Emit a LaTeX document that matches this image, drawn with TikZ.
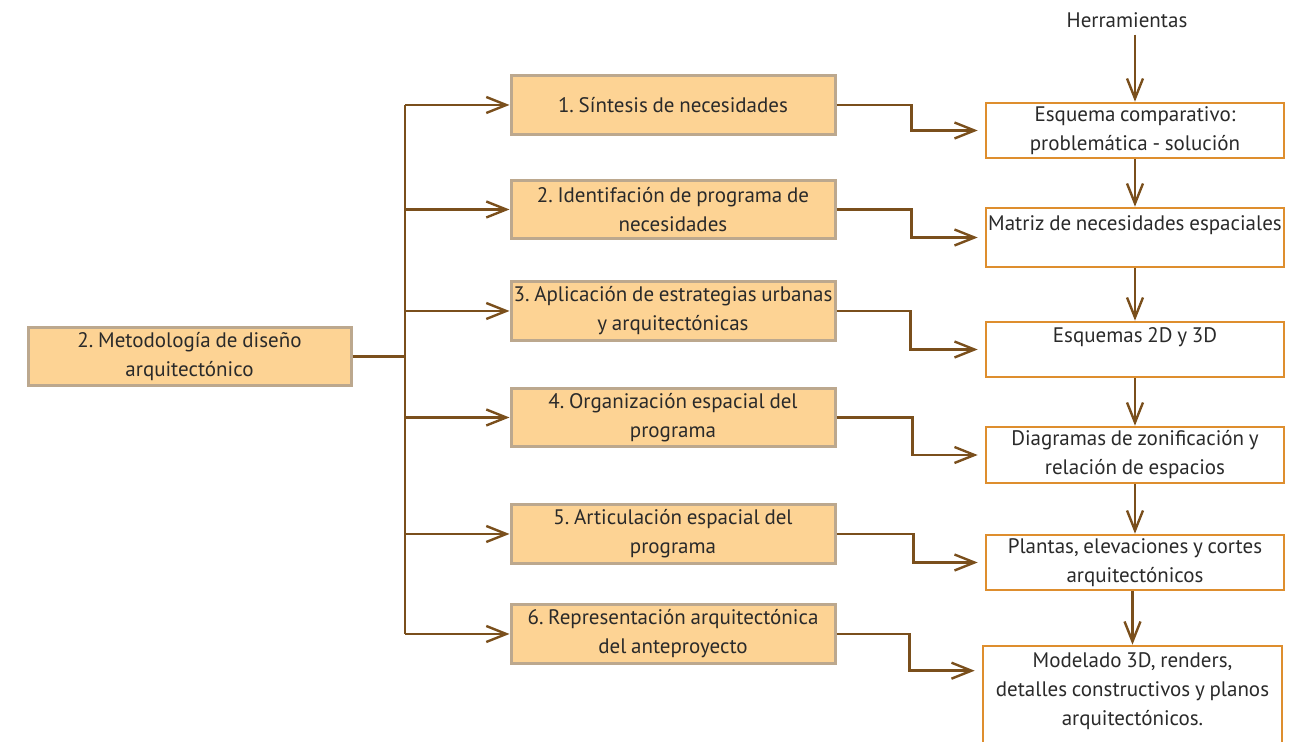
\documentclass[tikz,border=0pt]{standalone}
\usepackage{fontspec}
\setmainfont[WordSpace=0.85]{PT Sans}
\usetikzlibrary{arrows.meta}
\frenchspacing
\definecolor{ln}{HTML}{7A4F1C}
\definecolor{fillc}{HTML}{FDD394}
\definecolor{bordg}{HTML}{BCA88E}
\definecolor{bordo}{HTML}{DE8E2E}
\definecolor{txt}{HTML}{2A2A2A}
\begin{document}
\begin{tikzpicture}[x=0.5pt,y=-0.5pt,
  font=\fontsize{10.5}{14.5}\selectfont\frenchspacing, text=txt,
  mbox/.style={draw=bordg, line width=1.5pt, fill=fillc, minimum width=162pt, minimum height=29.25pt, align=center, inner sep=0pt},
  tbox/.style={draw=bordo, line width=1.3pt, fill=white, minimum width=149pt, minimum height=27.5pt, align=center, inner sep=0pt},
  conn/.style={draw=ln, line width=1.2pt, -{Straight Barb[length=10pt,width=8pt]}},
  plain/.style={draw=ln, line width=1.2pt}]
\useasboundingbox (0,0) rectangle (1297,742);

% left
\node[mbox, minimum width=161.5pt] (L) at (189.5,356.5) {2. Metodología de diseño\\arquitectónico};

% middle
\node[mbox] (B1) at (673,105) {1. Síntesis de necesidades};
\node[mbox] (B2) at (673,209.5) {2. Identifación de programa de\\necesidades};
\node[mbox] (B3) at (673,311) {3. Aplicación de estrategias urbanas\\y arquitectónicas};
\node[mbox] (B4) at (673,417.5) {4. Organización espacial del\\programa};
\node[mbox] (B5) at (673,534) {5. Articulación espacial del\\programa};
\node[mbox] (B6) at (673,634) {6. Representación arquitectónica\\del anteproyecto};

% right
\node (H) at (1127,20) {Herramientas};
\node[tbox] (R1) at (1135,130.5) {Esquema comparativo:\\problemática - solución};
\node[tbox, minimum height=29.5pt] (R2) at (1135,237.5) {Matriz de necesidades espaciales\\\phantom{x}};
\node[tbox] (R3) at (1135,349.5) {Esquemas 2D y 3D\\\phantom{x}};
\node[tbox, minimum height=28pt] (R4) at (1135,455) {Diagramas de zonificación y\\relación de espacios};
\node[tbox] (R5) at (1135,562.5) {Plantas, elevaciones y cortes\\arquitectónicos};
\node[tbox, minimum width=149.5pt, minimum height=57.5pt] (R6) at (1132.5,703.5) {Modelado 3D, renders,\\detalles constructivos y planos\\arquitectónicos.\\\phantom{x}};

% trunk
\coordinate (T) at (405,356.5);
\draw[plain] (L.east) -- (T);
\draw[plain] (B1.west -| T) -- (B6.west -| T);
\foreach \b in {B1,B2,B3,B4,B5,B6}
  \draw[conn] (\b.west -| T) -- (\b.west);

% elbows
\draw[conn, shorten >=3.5pt] (B1.east) -- ++(75,0) |- (R1.west);
\draw[conn, shorten >=3.5pt] (B2.east) -- ++(75,0) |- (R2.west);
\draw[conn, shorten >=3.5pt] (B3.east) -- ++(74,0) |- (R3.west);
\draw[conn, shorten >=3.5pt] (B4.east) -- ++(76,0) |- (R4.west);
\draw[conn, shorten >=3.5pt] (B5.east) -- ++(77,0) |- (R5.west);
\draw[conn, shorten >=3.5pt] (B6.east) -- ++(73,0) |- ([yshift=-13pt]R6.north west);

% vertical chain
\draw[conn] (R1.north |- H.south) -- (R1.north);
\draw[conn] (R1.south) -- (R2.north);
\draw[conn] (R2.south) -- (R3.north);
\draw[conn] (R3.south) -- (R4.north);
\draw[conn] (R4.south) -- (R5.north);
\draw[conn] (R5.south -| R6.north) -- (R6.north);
\end{tikzpicture}
\end{document}
